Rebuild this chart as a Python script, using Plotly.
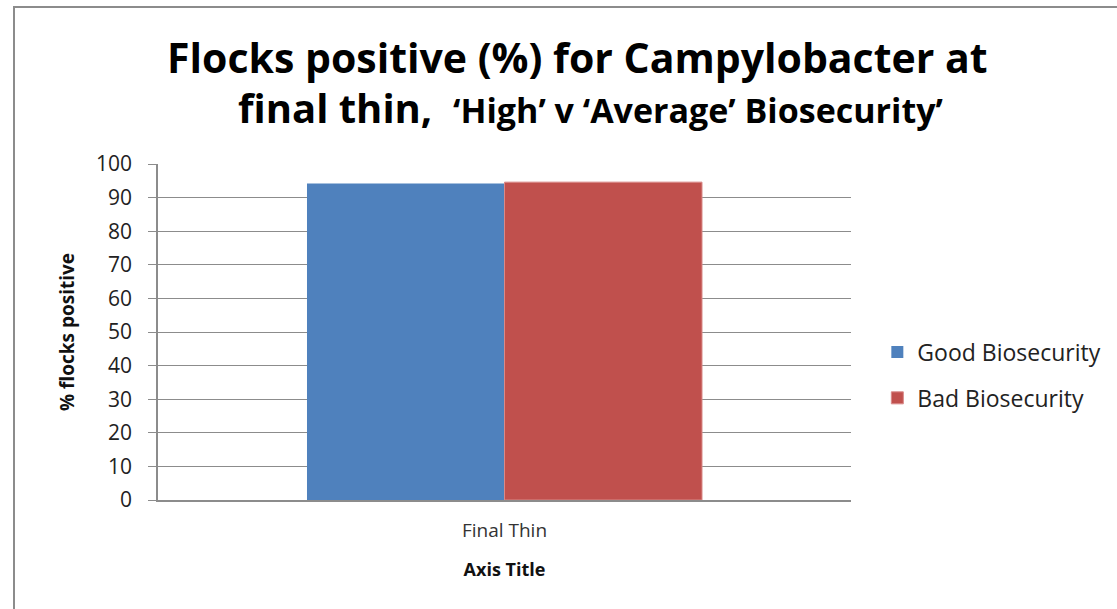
import plotly.graph_objects as go

categories = ["Final Thin"]
series_names = ["Good Biosecurity", "Bad Biosecurity"]
good_values = [94.2]
bad_values = [94.6]
colors = ["#4F81BD", "#C0504D"]
y_ticks = [0, 10, 20, 30, 40, 50, 60, 70, 80, 90, 100]

W, H = 1117, 609
L, R, T, B = 158, 266, 164, 109
pw, ph = W - L - R, H - T - B

fig = go.Figure()
fig.add_trace(go.Bar(x=categories, y=good_values, name=series_names[0],
                     marker=dict(color=colors[0], line=dict(width=0)),
                     legendgroup="a"))
fig.add_trace(go.Bar(x=categories, y=bad_values, name=series_names[1],
                     marker=dict(color=colors[1], line=dict(width=1, color="#D98A88")),
                     legendgroup="b"))

font_family = "'Open Sans', sans-serif"

fig.update_layout(
    width=W, height=H,
    margin=dict(l=L, r=R, t=T, b=B, autoexpand=False),
    paper_bgcolor="white", plot_bgcolor="white",
    barmode="group", bargap=0.43, bargroupgap=0,
    font=dict(family=font_family, color="#222222"),
    showlegend=True,
    legend=dict(x=1.038, xanchor="left", y=0.372, yanchor="middle",
                font=dict(size=23, color="#222222", family=font_family),
                tracegroupgap=13, traceorder="grouped", bgcolor="rgba(0,0,0,0)"),
    xaxis=dict(showline=True, linecolor="#8C8C8C", linewidth=1.5,
               tickfont=dict(size=19, color="#333333"), ticks="", ticklabelstandoff=12,
               title=dict(text="<b>Axis Title</b>", font=dict(size=18, color="#111111"), standoff=22)),
    yaxis=dict(range=[0, 100], tickvals=y_ticks, showgrid=True, gridcolor="#8C8C8C", gridwidth=1,
               showline=True, linecolor="#8C8C8C", linewidth=1.5,
               ticks="outside", ticklen=8, tickcolor="#8C8C8C", ticklabelstandoff=12,
               tickfont=dict(size=21, color="#222222"), zeroline=False,
               title=dict(text="<b>% flocks positive</b>", font=dict(size=19, color="#111111"), standoff=16)),
)

def px(xp):
    return (xp - L) / pw

def py(yp):
    return (H - B - yp) / ph

fig.add_annotation(xref="paper", yref="paper", x=px(577), y=py(57), xanchor="center", yanchor="middle",
                   text="<b>Flocks positive (%) for Campylobacter at</b>", showarrow=False,
                   font=dict(size=41, color="#000000", family=font_family))
fig.add_annotation(xref="paper", yref="paper", x=px(590), y=py(108), xanchor="center", yanchor="middle",
                   text="<b>final thin,  <span style='font-size:34px'>\u2018High\u2019 v \u2018Average\u2019 Biosecurity\u2019</span></b>",
                   showarrow=False, font=dict(size=40, color="#000000", family=font_family))

fig.add_shape(type="path", xref="paper", yref="paper",
              path=f"M {px(14)} {py(H+5)} L {px(14)} {py(7)} L {px(W+5)} {py(7)}",
              line=dict(color="#8C8C8C", width=2))

fig.write_html("out.html")
